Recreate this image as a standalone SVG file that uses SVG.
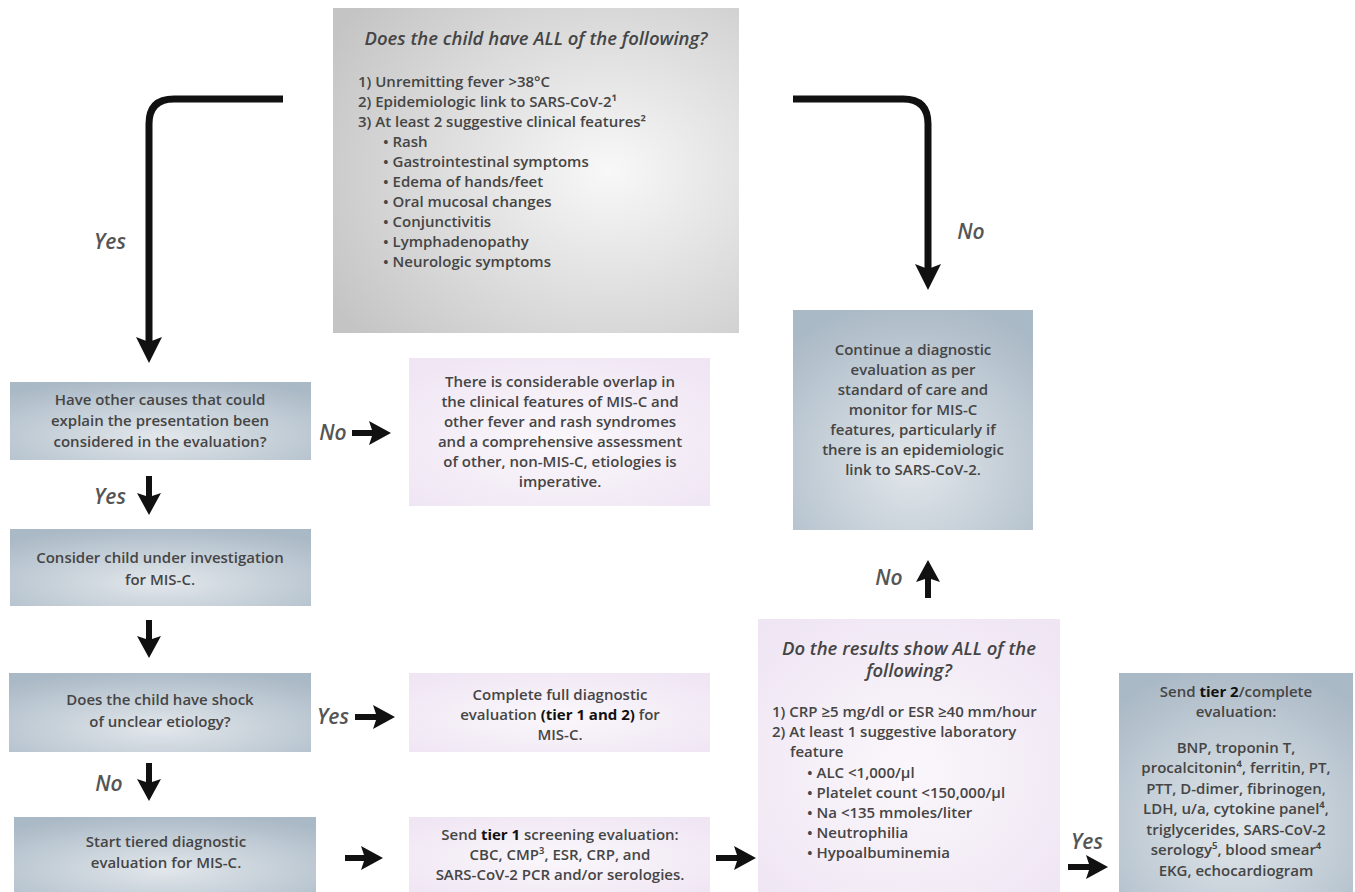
<svg xmlns="http://www.w3.org/2000/svg" width="1355" height="892" viewBox="0 0 1355 892">
<defs>
<radialGradient id="gGray" cx="68%" cy="50%" r="80%">
<stop offset="0" stop-color="#f8f8f8"/><stop offset="1" stop-color="#c4c4c4"/>
</radialGradient>
<radialGradient id="gBlue" cx="50%" cy="70%" r="75%">
<stop offset="0" stop-color="#e2e7eb"/><stop offset="1" stop-color="#aab9c6"/>
</radialGradient>
<radialGradient id="gPink" cx="50%" cy="55%" r="70%">
<stop offset="0" stop-color="#faf7fb"/><stop offset="1" stop-color="#efe5f3"/>
</radialGradient>
<marker id="ah" viewBox="0 0 24 24" markerWidth="24" markerHeight="24" refX="4" refY="12" orient="auto" markerUnits="userSpaceOnUse">
<path d="M0,0 L22,12 L0,24 L4,12 Z" fill="#111"/>
</marker>
<marker id="ahBig" viewBox="0 0 26 26" markerWidth="26" markerHeight="26" refX="5" refY="13" orient="auto" markerUnits="userSpaceOnUse">
<path d="M0,0 L26,13 L0,26 L5,13 Z" fill="#111"/>
</marker>
</defs>
<style>
text{font-family:"Open Sans","Noto Sans",sans-serif;font-weight:600;fill:#454545;}
.t{font-size:15px;}
.c{text-anchor:middle;}
.ti{font-size:18.5px;font-style:italic;}
.lb{font-size:21px;font-style:italic;fill:#555;}
.b{font-weight:700;fill:#111;}
.conn{fill:none;stroke:#111;stroke-width:7;}
.sh{fill:none;stroke:#111;stroke-width:6;}
</style>
<rect width="1355" height="892" fill="#fff"/>

<g id="connectors">
<path class="conn" d="M283,99 H174 Q149,99 149,124 V342" marker-end="url(#ahBig)"/>
<path class="conn" d="M793,99 H903 Q928,99 928,124 V269" marker-end="url(#ahBig)"/>
<path class="sh" d="M352,433 H373" marker-end="url(#ah)"/>
<path class="sh" d="M149,476 V497" marker-end="url(#ah)"/>
<path class="sh" d="M149,620 V640" marker-end="url(#ah)"/>
<path class="sh" d="M355,717 H377" marker-end="url(#ah)"/>
<path class="sh" d="M149,763 V783" marker-end="url(#ah)"/>
<path class="sh" d="M345,858 H365" marker-end="url(#ah)"/>
<path class="sh" d="M716,858 H738" marker-end="url(#ah)"/>
<path class="sh" d="M928,598 V578" marker-end="url(#ah)"/>
<path class="sh" d="M1068,867 H1090" marker-end="url(#ah)"/>
<text class="lb" x="110" y="249" text-anchor="middle">Yes</text>
<text class="lb" x="971" y="239" text-anchor="middle">No</text>
<text class="lb" x="333" y="440" text-anchor="middle">No</text>
<text class="lb" x="110" y="504" text-anchor="middle">Yes</text>
<text class="lb" x="333" y="724" text-anchor="middle">Yes</text>
<text class="lb" x="109" y="791" text-anchor="middle">No</text>
<text class="lb" x="889" y="585" text-anchor="middle">No</text>
<text class="lb" x="1087" y="849" text-anchor="middle">Yes</text>
</g>

<g id="n-top">
<rect x="333" y="8" width="406" height="325" fill="url(#gGray)"/>
<text class="ti c" x="536" y="45">Does the child have ALL of the following?</text>
<text class="t" x="358" y="87">1) Unremitting fever &gt;38°C</text>
<text class="t" x="358" y="107">2) Epidemiologic link to SARS-CoV-2¹</text>
<text class="t" x="358" y="127">3) At least 2 suggestive clinical features²</text>
<text class="t" x="383" y="147">• Rash</text>
<text class="t" x="383" y="167">• Gastrointestinal symptoms</text>
<text class="t" x="383" y="187">• Edema of hands/feet</text>
<text class="t" x="383" y="207">• Oral mucosal changes</text>
<text class="t" x="383" y="227">• Conjunctivitis</text>
<text class="t" x="383" y="247">• Lymphadenopathy</text>
<text class="t" x="383" y="267">• Neurologic symptoms</text>
</g>

<g id="n-other-causes">
<rect x="10" y="382" width="301" height="78" fill="url(#gBlue)"/>
<text class="t c" x="160" y="405">Have other causes that could</text>
<text class="t c" x="160" y="426">explain the presentation been</text>
<text class="t c" x="160" y="447">considered in the evaluation?</text>
</g>

<g id="n-overlap">
<rect x="409" y="358" width="301" height="148" fill="url(#gPink)"/>
<text class="t c" x="560" y="387">There is considerable overlap in</text>
<text class="t c" x="560" y="407">the clinical features of MIS-C and</text>
<text class="t c" x="560" y="427">other fever and rash syndromes</text>
<text class="t c" x="560" y="447">and a comprehensive assessment</text>
<text class="t c" x="560" y="467">of other, non-MIS-C, etiologies is</text>
<text class="t c" x="560" y="487">imperative.</text>
</g>

<g id="n-continue">
<rect x="793" y="310" width="240" height="220" fill="url(#gBlue)"/>
<text class="t c" x="913" y="355">Continue a diagnostic</text>
<text class="t c" x="913" y="375">evaluation as per</text>
<text class="t c" x="913" y="395">standard of care and</text>
<text class="t c" x="913" y="415">monitor for MIS-C</text>
<text class="t c" x="913" y="435">features, particularly if</text>
<text class="t c" x="913" y="455">there is an epidemiologic</text>
<text class="t c" x="913" y="475">link to SARS-CoV-2.</text>
</g>

<g id="n-consider">
<rect x="10" y="529" width="301" height="77" fill="url(#gBlue)"/>
<text class="t c" x="160" y="563">Consider child under investigation</text>
<text class="t c" x="160" y="585">for MIS-C.</text>
</g>

<g id="n-shock">
<rect x="9" y="673" width="302" height="79" fill="url(#gBlue)"/>
<text class="t c" x="160" y="705">Does the child have shock</text>
<text class="t c" x="160" y="727">of unclear etiology?</text>
</g>

<g id="n-complete">
<rect x="409" y="673" width="301" height="79" fill="url(#gPink)"/>
<text class="t c" x="560" y="700">Complete full diagnostic</text>
<text class="t c" x="560" y="720">evaluation <tspan class="b">(tier 1 and  2)</tspan> for</text>
<text class="t c" x="560" y="740">MIS-C.</text>
</g>

<g id="n-start">
<rect x="14" y="817" width="302" height="75" fill="url(#gBlue)"/>
<text class="t c" x="166" y="847">Start tiered diagnostic</text>
<text class="t c" x="166" y="868">evaluation for MIS-C.</text>
</g>

<g id="n-tier1">
<rect x="409" y="817" width="301" height="75" fill="url(#gPink)"/>
<text class="t c" x="560" y="840">Send <tspan class="b">tier 1</tspan> screening evaluation:</text>
<text class="t c" x="560" y="860">CBC, CMP³, ESR, CRP, and</text>
<text class="t c" x="560" y="880">SARS-CoV-2 PCR and/or serologies.</text>
</g>

<g id="n-results">
<rect x="758" y="619" width="302" height="273" fill="url(#gPink)"/>
<text class="ti c" x="909" y="655">Do the results show ALL of the<tspan x="909" dy="22">following?</tspan></text>
<text class="t" x="772" y="717">1) CRP ≥5 mg/dl or ESR ≥40 mm/hour</text>
<text class="t" x="772" y="737">2) At least 1 suggestive laboratory</text>
<text class="t" x="790" y="757">feature</text>
<text class="t" x="807" y="778">• ALC &lt;1,000/µl</text>
<text class="t" x="807" y="798">• Platelet count &lt;150,000/µl</text>
<text class="t" x="807" y="818">• Na &lt;135 mmoles/liter</text>
<text class="t" x="807" y="838">• Neutrophilia</text>
<text class="t" x="807" y="858">• Hypoalbuminemia</text>
</g>

<g id="n-tier2">
<rect x="1119" y="673" width="234" height="219" fill="url(#gBlue)"/>
<text class="t c" x="1236" y="697">Send <tspan class="b">tier 2</tspan>/complete</text>
<text class="t c" x="1236" y="717">evaluation:</text>
<text class="t c" x="1236" y="753">BNP, troponin T,</text>
<text class="t c" x="1236" y="773">procalcitonin⁴, ferritin, PT,</text>
<text class="t c" x="1236" y="794">PTT, D-dimer, fibrinogen,</text>
<text class="t c" x="1236" y="814">LDH, u/a, cytokine panel⁴,</text>
<text class="t c" x="1236" y="835">triglycerides, SARS-CoV-2</text>
<text class="t c" x="1236" y="855">serology⁵, blood smear⁴</text>
<text class="t c" x="1236" y="876">EKG, echocardiogram</text>
</g>
</svg>
